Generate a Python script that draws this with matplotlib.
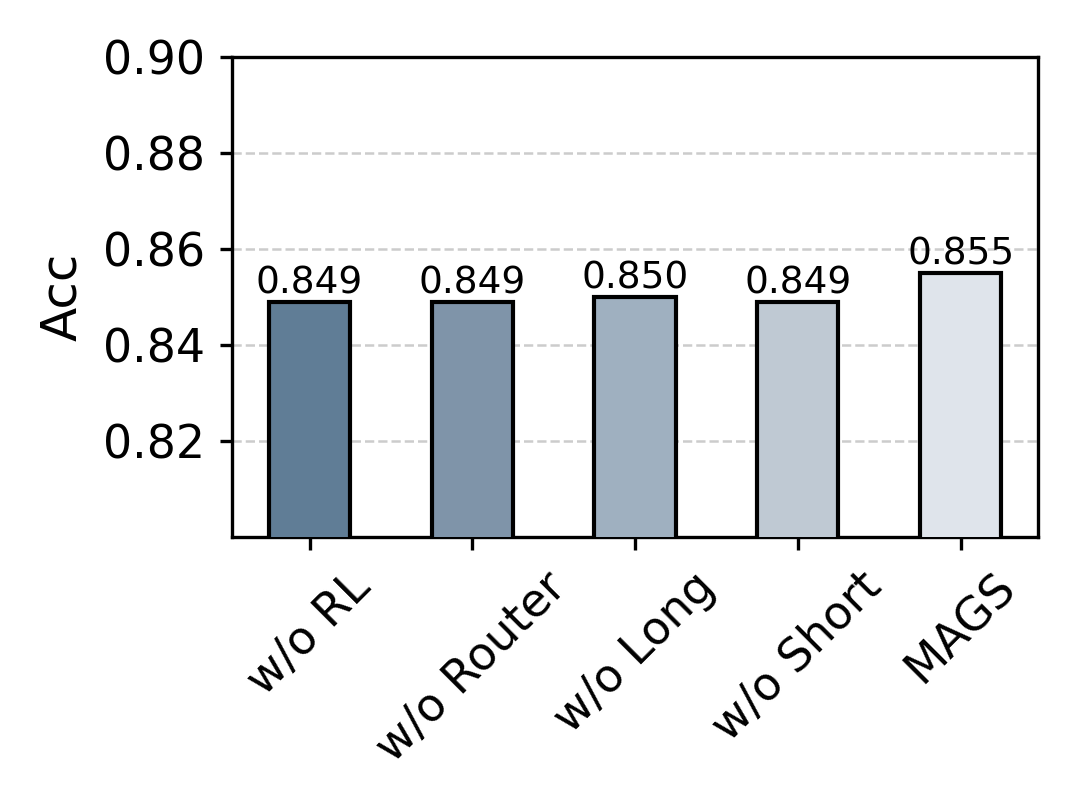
import matplotlib
matplotlib.use('Agg')
import matplotlib.pyplot as plt

methods = ['w/o RL', 'w/o Router', 'w/o Long', 'w/o Short', 'MAGS']
acc = [0.849, 0.849, 0.850, 0.849, 0.855]
colors = ['#607d96', '#7f94a9', '#9fb0c0', '#bfc9d3', '#dfe4eb']

fig, ax = plt.subplots(figsize=(3.6, 2.7), dpi=300)
fig.subplots_adjust(left=0.215, right=0.961, top=0.930, bottom=0.337)

bars = ax.bar(methods, acc, width=0.5, color=colors, edgecolor='black', linewidth=1.0, zorder=3)
for b, v in zip(bars, acc):
    ax.text(b.get_x() + b.get_width() / 2, v, f'{v:.3f}', ha='center', va='bottom', fontsize=9)

ax.set_ylim(0.80, 0.90)
ax.set_yticks([0.82, 0.84, 0.86, 0.88, 0.90])
ax.set_ylabel('Acc', fontsize=12)
ax.tick_params(axis='both', labelsize=11, length=3)
plt.setp(ax.get_xticklabels(), rotation=45)
ax.grid(axis='y', linestyle='--', color='#cccccc', linewidth=0.6, zorder=0)

fig.savefig('out.png', dpi=300)
